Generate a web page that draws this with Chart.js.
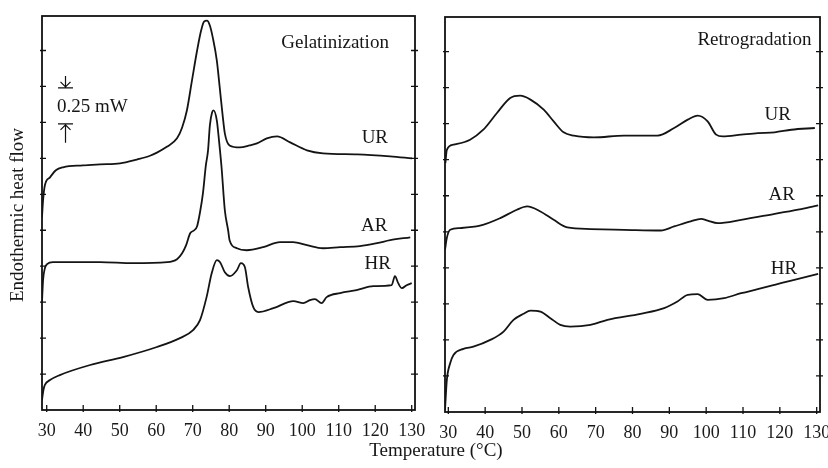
<!DOCTYPE html>
<html>
<head>
<meta charset="utf-8">
<script src="https://cdn.jsdelivr.net/npm/chart.js@4.4.1/dist/chart.umd.min.js"></script>
<style>
  html, body { margin: 0; padding: 0; background: #fff; overflow: hidden; }
  #wrap { position: relative; width: 828px; height: 468px; }
  canvas { position: absolute; left: 0; top: 0; }
</style>
</head>
<body>
<div id="wrap">
  <canvas id="gel" width="828" height="468"></canvas>
  <canvas id="retro" width="850" height="468"></canvas>
</div>
<script>
  // temperature (°C) and heat flow (mW, offset)
  const xTicks = [30, 40, 50, 60, 70, 80, 90, 100, 110, 120, 130];
  const yTicks = [0.25, 0.5, 0.75, 1, 1.25, 1.5, 1.75, 2, 2.25, 2.5];

  const gelTempUR = [28.7, 29.0, 29.5, 30.9, 32.5, 34.5, 39.9, 44.6, 50.1, 54.7, 58.3, 60.2, 62.9, 65.7, 67.1, 68.4, 69.8, 71.2, 72.3, 73.1, 73.9, 74.7, 75.5, 76.6, 77.4, 78.2, 78.8, 80.1, 82.9, 85.6, 87.6, 90.3, 93.1, 96.7, 101.3, 105.7, 115.0, 124.1, 130.1];
  const gelUR = [1.340, 1.458, 1.563, 1.618, 1.667, 1.688, 1.701, 1.708, 1.715, 1.742, 1.768, 1.790, 1.830, 1.889, 1.965, 2.083, 2.292, 2.500, 2.639, 2.701, 2.708, 2.674, 2.590, 2.431, 2.243, 2.049, 1.924, 1.840, 1.826, 1.840, 1.854, 1.889, 1.903, 1.861, 1.806, 1.785, 1.778, 1.764, 1.750];

  const gelTempAR = [28.7, 29.0, 29.5, 30.1, 31.7, 37.2, 44.6, 53.6, 63.0, 65.7, 67.1, 68.2, 69.3, 70.4, 71.2, 72.0, 72.8, 73.6, 74.2, 74.7, 75.3, 75.7, 76.6, 77.2, 77.9, 78.8, 79.7, 80.1, 82.1, 84.8, 89.3, 93.9, 97.5, 101.3, 105.7, 110.4, 115.8, 120.5, 124.1, 129.6];
  const gelAR = [0.750, 0.903, 0.986, 1.014, 1.028, 1.028, 1.028, 1.021, 1.028, 1.049, 1.090, 1.146, 1.229, 1.250, 1.278, 1.375, 1.507, 1.701, 1.806, 1.979, 2.069, 2.083, 2.014, 1.875, 1.688, 1.389, 1.250, 1.181, 1.125, 1.111, 1.132, 1.167, 1.167, 1.146, 1.125, 1.132, 1.139, 1.160, 1.181, 1.201];

  const gelTempHR = [28.7, 29.1, 29.5, 30.9, 33.6, 41.9, 50.9, 60.2, 66.5, 70.1, 72.0, 73.8, 75.2, 76.6, 77.5, 78.8, 80.2, 82.1, 83.2, 84.3, 85.2, 86.6, 88.0, 92.1, 97.6, 100.3, 102.1, 103.5, 105.3, 106.7, 110.4, 114.9, 119.5, 124.5, 125.4, 126.3, 127.3, 128.6, 130.0];
  const gelHR = [0.069, 0.139, 0.174, 0.208, 0.243, 0.313, 0.368, 0.438, 0.500, 0.556, 0.625, 0.785, 0.951, 1.042, 1.028, 0.958, 0.931, 0.972, 1.021, 0.993, 0.854, 0.715, 0.681, 0.708, 0.757, 0.743, 0.764, 0.771, 0.743, 0.785, 0.813, 0.833, 0.861, 0.868, 0.931, 0.882, 0.847, 0.868, 0.882];

  const retTempUR = [29.2, 29.6, 31.4, 35.9, 39.5, 43.2, 46.8, 49.5, 52.3, 55.9, 58.6, 61.3, 64.1, 69.5, 77.7, 86.8, 91.3, 95.0, 97.7, 100.4, 102.7, 104.5, 109.5, 114.0, 118.6, 123.1, 129.5];
  const retUR = [1.727, 1.819, 1.854, 1.889, 1.958, 2.074, 2.178, 2.194, 2.167, 2.097, 2.016, 1.940, 1.917, 1.905, 1.917, 1.917, 1.970, 2.028, 2.056, 2.016, 1.924, 1.912, 1.924, 1.935, 1.940, 1.958, 1.970];

  const retTempAR = [29.1, 29.6, 30.5, 33.2, 38.6, 44.1, 48.6, 51.4, 55.0, 58.6, 62.3, 68.6, 77.7, 87.7, 91.3, 95.8, 98.6, 100.4, 103.1, 109.5, 118.6, 125.8, 130.4];
  const retAR = [1.125, 1.208, 1.264, 1.276, 1.292, 1.345, 1.403, 1.426, 1.391, 1.333, 1.280, 1.269, 1.264, 1.259, 1.287, 1.322, 1.340, 1.328, 1.310, 1.333, 1.375, 1.408, 1.433];

  const retTempHR = [29.1, 29.6, 30.5, 31.4, 34.1, 36.8, 41.4, 45.0, 47.7, 50.4, 52.3, 55.0, 57.7, 60.4, 63.1, 68.6, 73.2, 82.2, 88.6, 92.2, 95.0, 97.7, 100.4, 104.9, 109.5, 114.0, 118.6, 123.1, 130.4];
  const retHR = [0.014, 0.222, 0.338, 0.396, 0.438, 0.453, 0.500, 0.558, 0.639, 0.681, 0.703, 0.697, 0.651, 0.604, 0.592, 0.604, 0.639, 0.681, 0.720, 0.766, 0.813, 0.817, 0.778, 0.790, 0.824, 0.852, 0.882, 0.912, 0.958];

  const serif = '"Liberation Serif", "Times New Roman", serif';

  function pts(xs, ys) {
    return xs.map((x, i) => ({ x: x, y: ys[i] }));
  }

  function curve(label, xs, ys) {
    return {
      label: label,
      data: pts(xs, ys),
      borderColor: '#141414',
      borderWidth: 1.8,
      pointRadius: 0,
      cubicInterpolationMode: 'monotone',
      fill: false
    };
  }

  // frame, inward ticks and the text inside each panel
  const panelDecor = {
    id: 'panelDecor',
    afterDraw(chart, args, opts) {
      const ctx = chart.ctx;
      const a = chart.chartArea;
      const x = chart.scales.x;
      const y = chart.scales.y;
      ctx.save();
      ctx.strokeStyle = '#111';
      ctx.lineWidth = 1.8;
      ctx.strokeRect(a.left, a.top, a.right - a.left, a.bottom - a.top);

      ctx.lineWidth = 1.3;
      ctx.beginPath();
      xTicks.forEach(v => {
        const px = x.getPixelForValue(v);
        ctx.moveTo(px, a.bottom + 2);
        ctx.lineTo(px, a.bottom - 5);
      });
      yTicks.forEach(v => {
        const py = y.getPixelForValue(v);
        ctx.moveTo(a.left - 2, py);
        ctx.lineTo(a.left + 4, py);
        ctx.moveTo(a.right + 3, py);
        ctx.lineTo(a.right - 4, py);
      });
      ctx.stroke();

      ctx.fillStyle = '#161616';
      ctx.font = '19px ' + serif;
      ctx.textAlign = 'center';
      ctx.textBaseline = 'middle';
      opts.labels.forEach(l => {
        ctx.fillText(l.text, x.getPixelForValue(l.x), y.getPixelForValue(l.y));
      });

      if (opts.scaleBar) {
        const sb = opts.scaleBar;
        const ax = x.getPixelForValue(sb.x);
        const top = y.getPixelForValue(sb.high);
        const bot = y.getPixelForValue(sb.low);
        ctx.lineWidth = 1.2;
        ctx.beginPath();
        // down arrow onto upper bar
        ctx.moveTo(ax - 7.5, top); ctx.lineTo(ax + 7.5, top);
        ctx.moveTo(ax, top - 12); ctx.lineTo(ax, top - 1);
        ctx.moveTo(ax - 5, top - 6); ctx.lineTo(ax, top - 1); ctx.lineTo(ax + 5, top - 6);
        // up arrow onto lower bar
        ctx.moveTo(ax - 7.5, bot); ctx.lineTo(ax + 7.5, bot);
        ctx.moveTo(ax, bot + 19); ctx.lineTo(ax, bot + 1);
        ctx.moveTo(ax - 5, bot + 6); ctx.lineTo(ax, bot + 1); ctx.lineTo(ax + 5, bot + 6);
        ctx.stroke();
        ctx.textAlign = 'left';
        ctx.fillText(sb.text, ax - 8.5, (top + bot) / 2 + 1);
      }

      if (opts.titles) {
        ctx.textAlign = 'center';
        ctx.fillText('Temperature (\u00B0C)', 436, 451);
        ctx.save();
        ctx.translate(18, 215);
        ctx.rotate(-Math.PI / 2);
        ctx.fillText('Endothermic heat flow', 0, 0);
        ctx.restore();
      }
      ctx.restore();
    }
  };

  function panelOptions(xMin, xMax, pad, bottomH, decor) {
    return {
      responsive: false,
      animation: false,
      layout: { padding: pad },
      plugins: {
        legend: { display: false },
        tooltip: { enabled: false },
        panelDecor: decor
      },
      scales: {
        x: {
          type: 'linear',
          min: xMin,
          max: xMax,
          grid: { display: false, drawTicks: false },
          border: { display: false },
          afterBuildTicks: s => { s.ticks = xTicks.map(v => ({ value: v })); },
          afterFit: s => { s.height = bottomH; },
          ticks: {
            autoSkip: false,
            maxRotation: 0,
            padding: 10,
            color: '#1a1a1a',
            font: { family: serif, size: 18 }
          }
        },
        y: {
          display: false,
          min: 0,
          max: 2.74
        }
      }
    };
  }

  const gelChart = new Chart(document.getElementById('gel'), {
    type: 'line',
    data: {
      datasets: [
        curve('UR', gelTempUR, gelUR),
        curve('AR', gelTempAR, gelAR),
        curve('HR', gelTempHR, gelHR)
      ]
    },
    options: panelOptions(28.71, 130.9, { left: 42, right: 413, top: 16, bottom: 0 }, 58, {
      labels: [
        { text: 'Gelatinization', x: 109.0, y: 2.551 },
        { text: 'UR', x: 119.9, y: 1.891 },
        { text: 'AR', x: 119.7, y: 1.278 },
        { text: 'HR', x: 120.7, y: 1.014 }
      ],
      scaleBar: { text: '0.25 mW', x: 35.15, high: 2.24, low: 1.99 },
      titles: true
    }),
    plugins: [panelDecor]
  });

  const retroChart = new Chart(document.getElementById('retro'), {
    type: 'line',
    data: {
      datasets: [
        curve('UR', retTempUR, retUR),
        curve('AR', retTempAR, retAR),
        curve('HR', retTempHR, retHR)
      ]
    },
    options: panelOptions(29.1, 130.9, { left: 445, right: 30, top: 17, bottom: 0 }, 56, {
      labels: [
        { text: 'Retrogradation', x: 113.1, y: 2.583 },
        { text: 'UR', x: 119.4, y: 2.063 },
        { text: 'AR', x: 120.5, y: 1.507 },
        { text: 'HR', x: 121.1, y: 0.993 }
      ],
      scaleBar: null,
      titles: false
    }),
    plugins: [panelDecor]
  });
</script>
</body>
</html>
